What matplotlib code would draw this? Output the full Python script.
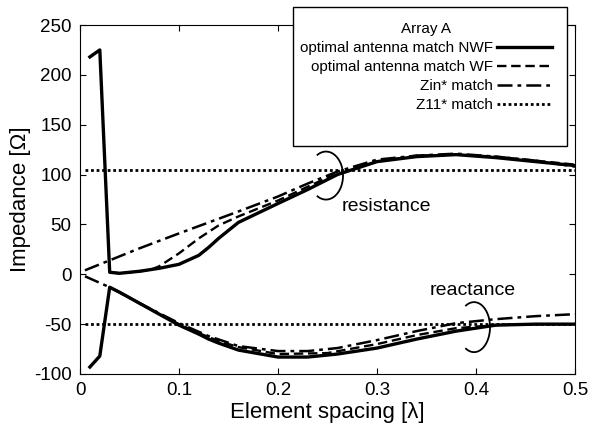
import numpy as np
import matplotlib
matplotlib.use("Agg")
import matplotlib.pyplot as plt
from matplotlib.patches import Rectangle

plt.rcParams['font.family'] = ['Liberation Sans', 'DejaVu Sans']
plt.rcParams['axes.unicode_minus'] = False

# element spacing (wavelengths) and impedance curves in ohms
spacing_nwf = [0.01, 0.02, 0.03, 0.04, 0.06, 0.08, 0.10, 0.12, 0.13, 0.14, 0.16, 0.20,
               0.23, 0.26, 0.30, 0.34, 0.38, 0.42, 0.46, 0.50]
res_nwf = [218, 225, 2, 1, 3, 6, 10, 19, 27, 36, 52, 71, 85, 100, 113, 118, 120, 117, 113, 109]
react_nwf = [-93, -82, -13, -18, -29, -40, -51, -60, -65, -69, -76, -83, -83, -80, -74, -65,
             -57, -51, -50, -50]

spacing_wf = [0.03, 0.04, 0.06, 0.07, 0.08, 0.10, 0.12, 0.14, 0.16, 0.20, 0.25, 0.30,
              0.34, 0.38, 0.42, 0.46, 0.50]
res_wf = [2, 1, 3, 4, 8, 21, 36, 49, 58, 74, 97, 113, 119, 120, 118, 114, 110]
react_wf = [-13, -18, -29, -34, -40, -50, -59, -67, -73, -80, -79, -70, -61, -54, -51, -50, -50]

spacing_zin = [0.005, 0.03, 0.06, 0.10, 0.13, 0.16, 0.20, 0.23, 0.26, 0.30, 0.34, 0.38,
               0.42, 0.46, 0.50]
res_zin = [4, 14, 26, 41, 52, 63, 78, 91, 103, 115, 119, 121, 118, 114, 108]
react_zin = [-2, -13, -29, -49, -62, -72, -77, -77, -74, -66, -57, -49, -45, -42, -40]

spacing_z11 = [0.005, 0.50]
res_z11 = [105, 105]
react_z11 = [-50, -50]

W, H = 594, 432
fig = plt.figure(figsize=(W / 100, H / 100), dpi=100)
ax = fig.add_axes([80 / W, 1 - 374 / H, 495 / W, 349 / H])

ax.plot(spacing_nwf, res_nwf, color='black', lw=2.4, label='optimal antenna match NWF')
ax.plot(spacing_nwf, react_nwf, color='black', lw=2.4)
ax.plot(spacing_wf, res_wf, color='black', lw=1.7, ls=(0, (4, 2)), label='optimal antenna match WF')
ax.plot(spacing_wf, react_wf, color='black', lw=1.7, ls=(0, (4, 2)))
ax.plot(spacing_zin, res_zin, color='black', lw=1.8, ls=(0, (6, 2, 1.5, 2)), label='Zin* match')
ax.plot(spacing_zin, react_zin, color='black', lw=1.8, ls=(0, (6, 2, 1.5, 2)))
ax.plot(spacing_z11, res_z11, color='black', lw=2.0, ls=(0, (1, 1)), label='Z11* match')
ax.plot(spacing_z11, react_z11, color='black', lw=2.0, ls=(0, (1, 1)))

ax.set_xlim(0, 0.5)
ax.set_ylim(-100, 250)
ax.set_xticks([0, 0.1, 0.2, 0.3, 0.4, 0.5])
ax.set_xticklabels(['0', '0.1', '0.2', '0.3', '0.4', '0.5'])
ax.set_yticks([-100, -50, 0, 50, 100, 150, 200, 250])
ax.tick_params(direction='in', top=True, right=True, labelsize=13.5, length=4, pad=6)
ax.set_xlabel('Element spacing [λ]', fontsize=16, labelpad=2)
ax.set_ylabel('Impedance [Ω]', fontsize=16, labelpad=2)


def bracket(cx, cy, a_px, b_px):
    # open ")"-shaped bracket, semi-axes given in pixels
    t = np.radians(np.linspace(-120, 120, 80))
    dx = 0.5 / 495
    dy = 350 / 349
    ax.plot(cx + a_px * dx * np.cos(t), cy + b_px * dy * np.sin(t), color='black', lw=1.3)


bracket(0.2485, 99, 17, 24)
ax.text(0.2646, 68, 'resistance', fontsize=14, ha='left', va='center')
bracket(0.398, -53, 16, 25)
ax.text(0.3535, -16, 'reactance', fontsize=14, ha='left', va='center')

# legend box sits over the top of the axes
box = Rectangle((293 / W, 1 - 146 / H), 274 / W, 139 / H, transform=fig.transFigure,
                facecolor='white', edgecolor='black', lw=1.0, zorder=5)
fig.patches.append(box)
leg = fig.legend(loc='upper right', bbox_to_anchor=(552 / W, 1 - 22 / H), title='Array A',
                 markerfirst=False, fontsize=11, title_fontsize=11, frameon=False,
                 handlelength=3.6, handletextpad=0.25, borderpad=0, borderaxespad=0,
                 labelspacing=0.33)
leg.set_zorder(6)
for t in leg.get_texts():
    t.set_ha('right')

fig.savefig('out.png', dpi=100)
